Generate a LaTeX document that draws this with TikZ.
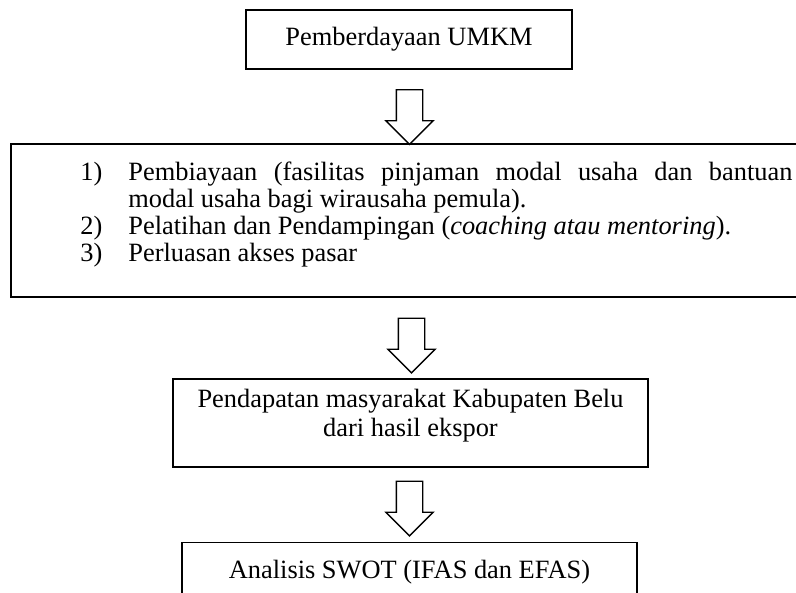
\documentclass[tikz,border=0pt]{standalone}
\usepackage{fontspec}
\setmainfont{Liberation Serif}
\usetikzlibrary{shapes.arrows}
\newcommand{\pxu}{0.4545pt}
\newcommand{\numitem}[2]{\par\noindent\hangindent=21.8pt\hangafter=1\makebox[21.8pt][l]{#1}#2\par}

\begin{document}
\begin{tikzpicture}[
  x=0.4545pt, y=-0.4545pt,
  box/.style={rectangle, draw, line width=0.9pt, inner sep=0pt, align=center, font=\fontsize{12}{13.3}\selectfont},
  boxtext/.style={inner sep=0pt, align=center, font=\fontsize{12}{13.3}\selectfont},
  blockarrow/.style={single arrow, draw, line width=0.6pt, fill=white, rotate=-90, inner xsep=0pt, inner ysep=12.5*\pxu, minimum height=54.5*\pxu, minimum width=46*\pxu, single arrow head extend=10.5*\pxu},
  listtext/.style={inner sep=0pt, text width=712*\pxu, align=justify, font=\fontsize{12}{12.2}\selectfont}
]
  \clip (0,0) rectangle (796,593);

  \node[box, minimum width=326*\pxu, minimum height=59*\pxu] (pemberdayaan) at (409,39.5) {Pemberdayaan UMKM};

  \node[box, minimum width=789*\pxu, minimum height=153*\pxu] (program) at (405.5,220.5) {};
  \node[listtext, anchor=north west] (programlist) at (80,153.5) {%
    \numitem{1)}{Pembiayaan (fasilitas pinjaman modal usaha dan bantuan\linebreak modal usaha bagi wirausaha pemula).}%
    \numitem{2)}{Pelatihan dan Pendampingan (\textit{coaching atau mentoring}).}%
    \numitem{3)}{Perluasan akses pasar}};

  \node[box, minimum width=475*\pxu, minimum height=88*\pxu] (pendapatan) at (410.5,423) {};
  \node[boxtext] (pendapatanlabel) at (410.5,416) {Pendapatan masyarakat Kabupaten Belu\\dari hasil ekspor};

  \node[box, minimum width=455*\pxu, minimum height=60*\pxu, anchor=north] (swot) at (409.5,541.5) {Analisis SWOT (IFAS dan EFAS)};

  % arrows between the boxes
  \node[blockarrow] (arrowA) at (409.5,110.5) {};
  \node[blockarrow] (arrowB) at (411.5,339) {};
  \node[blockarrow] (arrowC) at (409.5,502) {};
\end{tikzpicture}
\end{document}
